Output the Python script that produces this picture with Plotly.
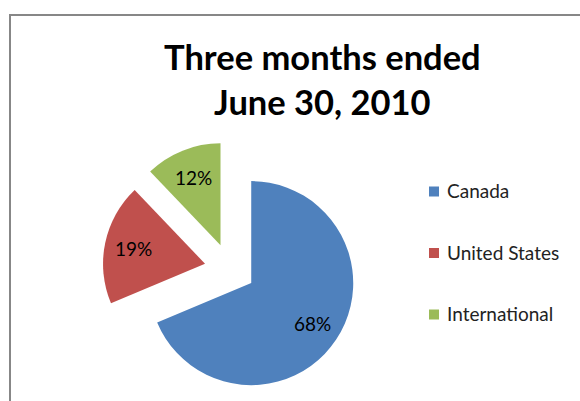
import math
import plotly.graph_objects as go

# Revenue split for the quarter, in percent
regions = ["Canada", "United States", "International"]
shares = [68, 19, 12]
colors = ["#4F81BD", "#C0504D", "#9BBB59"]
title_lines = ["Three months ended", "June 30, 2010"]

W, H = 580, 401

# Pie geometry (pixels): centre, radius and how far each slice is pulled out
cx, cy, r = 230.0, 269.0, 102.0
pull = 0.25
half = r * (1 + pull)
dom_x = [(cx - half) / W, (cx + half) / W]
dom_y = [1 - (cy + half) / H, 1 - (cy - half) / H]

fig = go.Figure(
    go.Pie(
        labels=regions,
        values=shares,
        sort=False,
        direction="clockwise",
        rotation=0,
        pull=[pull] * len(shares),
        marker=dict(colors=colors, line=dict(width=0)),
        textinfo="none",
        hoverinfo="label+percent",
        showlegend=False,
        domain=dict(x=dom_x, y=dom_y),
    )
)

annotations = []
shapes = []

# Percentage labels sit at ~72% of the radius along each slice's mid-angle
total = sum(shares)
start = 0.0
for v in shares:
    sweep = 360.0 * v / total
    mid = math.radians(start + sweep / 2)
    start += sweep
    d = (pull + 0.72) * r
    px = cx + d * math.sin(mid)
    py = cy - d * math.cos(mid)
    annotations.append(dict(
        x=px / W, y=1 - py / H, xref="paper", yref="paper",
        text=f"{v}%", showarrow=False, xanchor="center", yanchor="middle",
        font=dict(family="Lato", size=19, color="#000000"),
    ))

# Title
annotations.append(dict(
    x=323 / W, y=1 - 79 / H, xref="paper", yref="paper",
    text="<br>".join(title_lines), showarrow=False,
    xanchor="center", yanchor="middle",
    font=dict(family="Lato", size=34.5, color="#000000", weight="bold"),
))

# Legend: swatch plus label per region
leg_top, leg_step = 191.5, 61.5
for i, (name, col) in enumerate(zip(regions, colors)):
    yc = leg_top + i * leg_step
    shapes.append(dict(
        type="rect", xref="paper", yref="paper",
        x0=429 / W, x1=439 / W, y0=1 - (yc - 5) / H, y1=1 - (yc + 5) / H,
        fillcolor=col, line=dict(width=0),
    ))
    annotations.append(dict(
        x=445 / W, y=1 - (yc - 1) / H, xref="paper", yref="paper",
        text=name, showarrow=False, xanchor="left", yanchor="middle",
        font=dict(family="Lato", size=19, color="#222222"),
    ))

# Chart frame
shapes.append(dict(
    type="rect", xref="paper", yref="paper",
    x0=10 / W, x1=1.2, y0=1 - 15 / H, y1=-0.2,
    line=dict(color="#878787", width=2), fillcolor="rgba(0,0,0,0)",
))

fig.update_layout(
    width=W, height=H,
    margin=dict(l=0, r=0, t=0, b=0),
    paper_bgcolor="white",
    plot_bgcolor="white",
    annotations=annotations,
    shapes=shapes,
)

fig.write_html("out.html")
